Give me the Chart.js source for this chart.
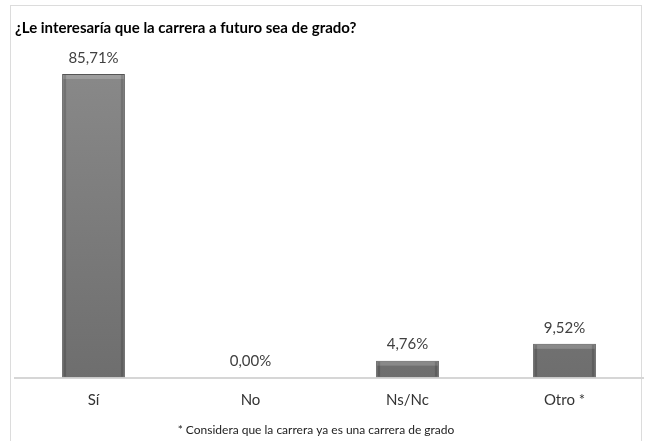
<!DOCTYPE html>
<html>
<head>
<meta charset="utf-8">
<script src="https://cdn.jsdelivr.net/npm/chart.js@4.4.1/dist/chart.umd.min.js"></script>
<style>
  html, body { margin: 0; background: #fff; overflow: hidden; width: 645px; height: 441px; }
  #frame { position: absolute; left: 10px; top: 5px; width: 630px; height: 440px; border: 1px solid #dcdcdc; }
  #wrap { position: absolute; left: 0; top: 0; width: 645px; height: 441px; }
</style>
</head>
<body>
<div id="frame"></div>
<div id="wrap"><canvas id="gradoChart"></canvas></div>
<script>
// Respuestas de la encuesta (porcentajes)
let categorias = ['Sí', 'No', 'Ns/Nc', 'Otro *'];
let porcentajes = [85.71, 0.00, 4.76, 9.52];

let tituloTexto = '¿Le interesaría que la carrera a futuro sea de grado?';
let notaTexto = '* Considera que la carrera ya es una carrera de grado';

const fuente = 'Lato, "Open Sans", sans-serif';

// Formato con coma decimal: 85,71%
function formatoPct(v) {
    return v.toFixed(2).replace('.', ',') + '%';
}

// Relleno gris con degradado vertical
function rellenoBarra(context) {
    var chart = context.chart;
    var area = chart.chartArea;
    if (!area) return '#7a7a7a';
    var g = chart.ctx.createLinearGradient(0, area.top, 0, area.bottom);
    g.addColorStop(0, '#8a8a8a');
    g.addColorStop(1, '#6e6e6e');
    return g;
}

// Etiquetas de valor sobre cada barra
const etiquetasValor = {
    id: 'etiquetasValor',
    afterDatasetsDraw(chart) {
        var ctx = chart.ctx;
        var meta = chart.getDatasetMeta(0);
        ctx.save();
        ctx.font = '15px ' + fuente;
        ctx.fillStyle = '#404040';
        ctx.textAlign = 'center';
        ctx.textBaseline = 'middle';
        meta.data.forEach(function(bar, i) {
            ctx.fillText(formatoPct(porcentajes[i]), bar.x, bar.y - 16);
        });
        ctx.restore();
    }
};

// Bisel claro arriba y bordes oscuros en las barras
const biselBarras = {
    id: 'biselBarras',
    afterDatasetsDraw(chart) {
        var ctx = chart.ctx;
        var meta = chart.getDatasetMeta(0);
        ctx.save();
        meta.data.forEach(function(bar) {
            var h = bar.base - bar.y;
            if (h < 2) return;
            var left = bar.x - bar.width / 2;
            var right = bar.x + bar.width / 2;
            ctx.fillStyle = 'rgba(255,255,255,0.18)';
            ctx.fillRect(left + 1, bar.y + 1, bar.width - 2, Math.min(4, h - 2));
            ctx.fillStyle = 'rgba(0,0,0,0.15)';
            ctx.fillRect(left + 1, bar.y + 1, 3, h - 2);
            ctx.fillRect(right - 4, bar.y + 1, 3, h - 2);
        });
        ctx.restore();
    }
};

// Nota al pie bajo el eje
const notaPie = {
    id: 'notaPie',
    afterDraw(chart) {
        var ctx = chart.ctx;
        ctx.save();
        ctx.font = '12px ' + fuente;
        ctx.fillStyle = '#222222';
        ctx.textAlign = 'center';
        ctx.textBaseline = 'middle';
        ctx.fillText(notaTexto, 316, 430);
        ctx.restore();
    }
};

var ctx = document.getElementById('gradoChart').getContext('2d');
var gradoChart = new Chart(ctx, {
    type: 'bar',
    data: {
        labels: categorias,
        datasets: [{
            data: porcentajes,
            backgroundColor: rellenoBarra,
            borderColor: '#555555',
            borderWidth: 1,
            borderSkipped: 'bottom',
            barPercentage: 0.4,
            categoryPercentage: 1.0
        }]
    },
    options: {
        responsive: true,
        maintainAspectRatio: false,
        animation: false,
        layout: {
            padding: { left: 15, right: 2, top: 0, bottom: 17.5 }
        },
        plugins: {
            legend: { display: false },
            tooltip: { enabled: false },
            title: {
                display: true,
                text: tituloTexto,
                align: 'start',
                color: '#000000',
                font: { family: fuente, size: 15, weight: 'bold' },
                padding: { top: 19, bottom: 20 }
            }
        },
        scales: {
            x: {
                grid: { display: false, drawTicks: false },
                border: { color: '#d6d6d6', width: 2 },
                ticks: {
                    color: '#333333',
                    font: { family: fuente, size: 15, lineHeight: 1 },
                    padding: 15.5
                }
            },
            y: {
                display: false,
                min: 0,
                max: 90.5
            }
        }
    },
    plugins: [etiquetasValor, biselBarras, notaPie]
});
</script>
</body>
</html>
